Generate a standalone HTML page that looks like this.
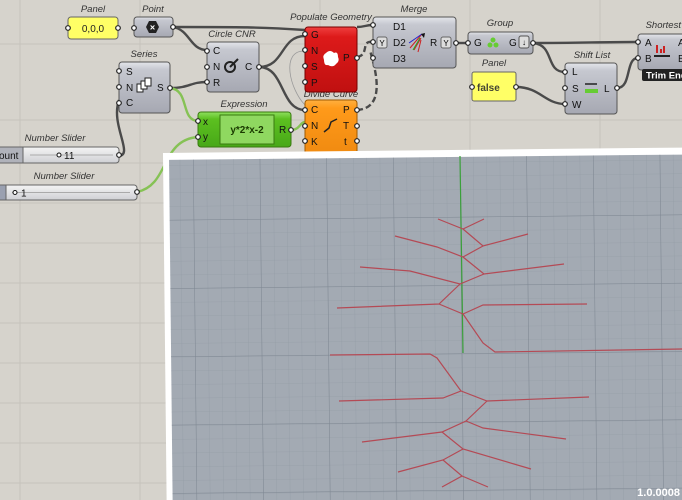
<!DOCTYPE html>
<html><head><meta charset="utf-8"><style>
html,body{margin:0;padding:0;width:682px;height:500px;overflow:hidden;background:#d6d3cc;}
svg{display:block}
text{font-family:"Liberation Sans",sans-serif;}
.lbl{font-size:9.5px;font-style:italic;fill:#333;text-anchor:middle}
.p{font-size:10px;fill:#111}
.comp{fill:url(#gg);stroke:#555;stroke-width:1}
.port{fill:#fff;stroke:#222;stroke-width:1.2}
.w{fill:none;stroke:#4a4a4a;stroke-width:2.4}
.wi{fill:none;stroke:#9a9a9a;stroke-width:0.8}
.g{fill:none;stroke:#86c255;stroke-width:2.4}
</style></head><body>
<svg width="682" height="500" viewBox="0 0 682 500" xmlns="http://www.w3.org/2000/svg">
<defs>
<linearGradient id="gg" x1="0" y1="0" x2="0" y2="1"><stop offset="0" stop-color="#e4e5ea"/><stop offset="0.15" stop-color="#c6c8d0"/><stop offset="1" stop-color="#a6a8b2"/></linearGradient>
<linearGradient id="rg" x1="0" y1="0" x2="0" y2="1"><stop offset="0" stop-color="#f04040"/><stop offset="0.15" stop-color="#dd1a1a"/><stop offset="1" stop-color="#c01010"/></linearGradient>
<linearGradient id="og" x1="0" y1="0" x2="0" y2="1"><stop offset="0" stop-color="#ffb040"/><stop offset="0.15" stop-color="#ff9a1a"/><stop offset="1" stop-color="#f08a10"/></linearGradient>
<linearGradient id="egg" x1="0" y1="0" x2="0" y2="1"><stop offset="0" stop-color="#8fe060"/><stop offset="0.2" stop-color="#5cc020"/><stop offset="1" stop-color="#48a818"/></linearGradient>
<linearGradient id="sg" x1="0" y1="0" x2="0" y2="1"><stop offset="0" stop-color="#f4f4f4"/><stop offset="1" stop-color="#cfd0d4"/></linearGradient>
<pattern id="minor" width="13.33" height="13.7" patternUnits="userSpaceOnUse" x="193" y="220"><path d="M0 0V14M0 0H14" stroke="#8f98a2" stroke-width="0.6" fill="none"/></pattern>
<pattern id="major" width="66.67" height="68.3" patternUnits="userSpaceOnUse" x="193" y="220"><path d="M0 0V70M0 0H70" stroke="#7e8792" stroke-width="1" fill="none"/></pattern>
</defs>
<g stroke="#c6c3bc" stroke-width="1">
<path d="M0 44H682M0 120H682M0 163H682M0 203H682M0 243H682M0 283H682M0 323H682M0 363H682M0 403H682M0 443H682M0 483H682"/>
<path d="M20 0V500M140 0V500M320 0V160M470 0V160M600 0V160"/>
</g>

<path class="w" d="M173 27 C240 27 260 27 305 30"/>
<path class="w" d="M173 27 C190 30 190 50 207 50"/>
<path class="w" d="M170 88 C190 88 190 82 207 82"/>
<path class="w" d="M118 156 C135 156 110 125 119 100"/>
<path class="w" d="M259 67 C285 67 280 36 305 36"/>
<path class="w" d="M259 67 C285 67 280 110 305 110"/>
<path class="g" d="M170 88 C190 90 180 120 198 121"/>
<path class="g" d="M137 192 C170 185 160 140 198 137"/>
<path class="g" d="M291 130 C300 130 300 122 305 122"/>
<path class="wi" d="M305 51 C280 50 290 90 305 105" stroke="#8c8" stroke-width="1.5"/>
<path class="w" stroke-dasharray="6 3" d="M357 57 C370 55 360 40 373 42 M357 110 C390 108 372 60 370 50"/>
<path class="w" d="M357 27 C365 27 365 25 373 25"/>
<path class="w" d="M456 43 C462 43 462 43 468 43"/>
<path class="w" d="M533 43 C580 43 600 42 638 42"/>
<path class="w" d="M533 43 C555 45 545 72 565 72"/>
<path class="w" d="M516 87 C540 87 545 104 565 104"/>
<path class="w" d="M617 88 C632 88 625 58 638 58"/>

<text class="lbl" x="93" y="12">Panel</text>
<rect x="68" y="17" width="50" height="22" rx="3" fill="#ffff66" stroke="#666"/>
<text x="93" y="32" font-family="Liberation Mono" font-size="10" text-anchor="middle" fill="#222">0,0,0</text>
<circle class="port" cx="68" cy="28" r="2.3"/><circle class="port" cx="118" cy="28" r="2.3"/>
<text class="lbl" x="153" y="12">Point</text>
<rect class="comp" x="134" y="17" width="39" height="20" rx="3"/>
<polygon points="146,27 149,21 156,21 159,27 156,33 149,33" fill="#222"/>
<text x="152.5" y="30.5" font-size="9" font-weight="bold" fill="#fff" text-anchor="middle">×</text>
<circle class="port" cx="134" cy="28" r="2.3"/><circle class="port" cx="173" cy="27" r="2.3"/>
<text class="lbl" x="232" y="37">Circle CNR</text>
<rect class="comp" x="207" y="42" width="52" height="50" rx="3"/>
<text class="p" x="213" y="54">C</text><text class="p" x="213" y="70">N</text><text class="p" x="213" y="86">R</text><text class="p" x="245" y="70">C</text>
<circle cx="230" cy="67" r="5" fill="none" stroke="#222" stroke-width="2"/><path d="M230 67 L238 59" stroke="#222" stroke-width="2"/>
<circle class="port" cx="207" cy="51" r="2.3"/><circle class="port" cx="207" cy="67" r="2.3"/><circle class="port" cx="207" cy="82" r="2.3"/><circle class="port" cx="259" cy="67" r="2.3"/>
<text class="lbl" x="144" y="57">Series</text>
<rect class="comp" x="119" y="62" width="51" height="51" rx="3"/>
<text class="p" x="126" y="75">S</text><text class="p" x="126" y="91">N</text><text class="p" x="126" y="106">C</text><text class="p" x="157" y="91">S</text>
<rect x="137" y="84" width="6" height="8" fill="#fff" stroke="#222"/><rect x="141" y="81" width="6" height="8" fill="#fff" stroke="#222"/><rect x="145" y="78" width="6" height="8" fill="#fff" stroke="#222"/>
<circle class="port" cx="119" cy="71" r="2.3"/><circle class="port" cx="119" cy="87" r="2.3"/><circle class="port" cx="119" cy="103" r="2.3"/><circle class="port" cx="170" cy="88" r="2.3"/>
<text class="lbl" x="244" y="107">Expression</text>
<rect x="198" y="112" width="93" height="35" rx="3" fill="url(#egg)" stroke="#3a7a10"/>
<rect x="220" y="115" width="54" height="29" fill="#8fd860" stroke="#3a7a10"/>
<text x="247" y="133" font-family="Liberation Mono" font-size="10" font-weight="bold" text-anchor="middle" fill="#1a3a00">y*2*x-2</text>
<text class="p" x="203" y="125">x</text><text class="p" x="203" y="140">y</text><text class="p" x="279" y="133">R</text>
<circle class="port" cx="198" cy="121" r="2.3"/><circle class="port" cx="198" cy="137" r="2.3"/><circle class="port" cx="291" cy="130" r="2.3"/>
<text class="lbl" x="55" y="141">Number Slider</text>
<rect x="0" y="147" width="119" height="16" rx="3" fill="url(#sg)" stroke="#666"/>
<rect x="-2" y="147" width="25" height="16" fill="#b0b2ba" stroke="#666"/>
<text x="-1" y="159" font-size="10" fill="#111">ount</text>
<path d="M30 155H113" stroke="#aaa"/>
<circle cx="59" cy="155" r="2" fill="#fff" stroke="#111"/>
<text x="64" y="159" font-size="10" fill="#111">11</text>
<circle class="port" cx="119" cy="155" r="2.3"/>
<text class="lbl" x="64" y="179">Number Slider</text>
<rect x="0" y="185" width="137" height="15" rx="3" fill="url(#sg)" stroke="#666"/>
<rect x="-2" y="185" width="8" height="15" fill="#9aa0b0" stroke="#666"/>
<path d="M12 192.5H130" stroke="#aaa"/>
<circle cx="15" cy="192.5" r="2" fill="#fff" stroke="#111"/>
<text x="21" y="196.5" font-size="10" fill="#111">1</text>
<circle class="port" cx="137" cy="192" r="2.3"/>
<text class="lbl" x="331" y="97" fill="#444">Divide Curve</text>
<text class="lbl" x="331" y="20" fill="#5a1010">Populate Geometry</text>
<rect x="305" y="27" width="52" height="65" rx="3" fill="url(#rg)" stroke="#700"/>
<text class="p" x="311" y="38">G</text><text class="p" x="311" y="54">N</text><text class="p" x="311" y="70">S</text><text class="p" x="311" y="86">P</text><text class="p" x="343" y="61">P</text>
<path d="M326 53 q4 -4 8 0 q4 -2 4 4 q2 4 -2 7 q-3 4 -8 1 q-4 1 -4 -5 q-2 -5 2 -7z" fill="#fff"/>
<circle class="port" cx="305" cy="34" r="2.3"/><circle class="port" cx="305" cy="50" r="2.3"/><circle class="port" cx="305" cy="66" r="2.3"/><circle class="port" cx="305" cy="82" r="2.3"/><circle class="port" cx="357" cy="58" r="2.3"/>
<rect x="305" y="100" width="52" height="55" rx="3" fill="url(#og)" stroke="#a05a00"/>
<text class="p" x="311" y="113">C</text><text class="p" x="311" y="129">N</text><text class="p" x="311" y="145">K</text>
<text class="p" x="343" y="113">P</text><text class="p" x="343" y="129">T</text><text class="p" x="344" y="145">t</text>
<path d="M324 132 L329 128 L331 122 L337 119" fill="none" stroke="#222" stroke-width="1.5"/>
<circle class="port" cx="305" cy="110" r="2.3"/><circle class="port" cx="305" cy="126" r="2.3"/><circle class="port" cx="305" cy="141" r="2.3"/><circle class="port" cx="357" cy="110" r="2.3"/><circle class="port" cx="357" cy="126" r="2.3"/><circle class="port" cx="357" cy="141" r="2.3"/>
<text class="lbl" x="414" y="12">Merge</text>
<rect class="comp" x="373" y="17" width="83" height="51" rx="3"/>
<text class="p" x="393" y="30">D1</text><text class="p" x="393" y="46">D2</text><text class="p" x="393" y="62">D3</text><text class="p" x="430" y="46">R</text>
<rect x="377" y="37" width="10" height="11" rx="2" fill="#ddd" stroke="#666"/><rect x="441" y="37" width="10" height="11" rx="2" fill="#ddd" stroke="#666"/>
<text x="382" y="46" font-size="8" text-anchor="middle">Y</text><text x="446" y="46" font-size="8" text-anchor="middle">Y</text>
<path d="M410 48 L422 34 M414 50 L421 38 M418 52 L421 40" stroke="#c22" stroke-width="1"/><path d="M409 43 L422 34" stroke="#22c"/><path d="M413 50 L420 38" stroke="#2a2"/><path d="M421 34 L425 33 L424 38z" fill="#111"/>
<circle class="port" cx="373" cy="25" r="2.3"/><circle class="port" cx="373" cy="42" r="2.3"/><circle class="port" cx="373" cy="58" r="2.3"/><circle class="port" cx="456" cy="43" r="2.3"/>
<text class="lbl" x="500" y="26">Group</text>
<rect class="comp" x="468" y="32" width="65" height="22" rx="3"/>
<text class="p" x="474" y="46">G</text><text class="p" x="509" y="46">G</text>
<circle cx="493" cy="40" r="2.5" fill="#6c3"/><circle cx="490" cy="45" r="2.5" fill="#6c3"/><circle cx="496" cy="45" r="2.5" fill="#6c3"/>
<rect x="519" y="36" width="10" height="12" rx="2" fill="#ddd" stroke="#555"/><text x="524" y="45" font-size="8" text-anchor="middle">↓</text>
<circle class="port" cx="468" cy="43" r="2.3"/><circle class="port" cx="533" cy="43" r="2.3"/>
<text class="lbl" x="494" y="66">Panel</text>
<rect x="472" y="72" width="44" height="29" rx="2" fill="#ffff66" stroke="#666"/>
<text x="477" y="91" font-family="Liberation Mono" font-size="10" font-weight="bold" fill="#443">false</text>
<circle class="port" cx="472" cy="87" r="2.3"/><circle class="port" cx="516" cy="87" r="2.3"/>
<text class="lbl" x="592" y="58">Shift List</text>
<rect class="comp" x="565" y="63" width="52" height="51" rx="3"/>
<text class="p" x="572" y="75">L</text><text class="p" x="572" y="92">S</text><text class="p" x="572" y="108">W</text><text class="p" x="604" y="92">L</text>
<path d="M585 84 H597" stroke="#222" stroke-width="1.5"/><rect x="585" y="89" width="13" height="4" fill="#6c3"/>
<circle class="port" cx="565" cy="72" r="2.3"/><circle class="port" cx="565" cy="88" r="2.3"/><circle class="port" cx="565" cy="104" r="2.3"/><circle class="port" cx="617" cy="88" r="2.3"/>
<text class="lbl" x="672" y="28">Shortest List</text>
<rect class="comp" x="638" y="34" width="50" height="36" rx="3"/>
<text class="p" x="645" y="46">A</text><text class="p" x="645" y="62">B</text><text class="p" x="678" y="46">A</text><text class="p" x="678" y="62">B</text>
<path d="M657 53V45M661 53V49M664 53V46" stroke="#c22" stroke-width="2"/><path d="M654 56H670" stroke="#222" stroke-width="2"/>
<rect x="642" y="69" width="45" height="12" rx="2" fill="#222"/>
<text x="646" y="78.5" font-size="9.5" font-weight="bold" fill="#fff">Trim End</text>
<circle class="port" cx="638" cy="42" r="2.3"/><circle class="port" cx="638" cy="58" r="2.3"/>

<g transform="rotate(-0.6 163 155)">
<rect x="163" y="153" width="540" height="360" fill="#ffffff"/>
<rect x="169" y="160" width="530" height="350" fill="#a3aab3"/>
<rect x="169" y="160" width="530" height="350" fill="url(#minor)"/>
<rect x="169" y="160" width="530" height="350" fill="url(#major)"/>
</g>
<path d="M460 156 L463 353" stroke="#3aa03a" stroke-width="1.2"/>
<g fill="none" stroke="#b44a55" stroke-width="1.2">
<path d="M438 219 L463 229 L484 219"/>
<path d="M463 229 L483 246 L528 234"/>
<path d="M395 236 L437 247 L463 257 L483 246"/>
<path d="M463 257 L484 274 L564 264"/>
<path d="M360 267 L410 271 L460 284 L484 274"/>
<path d="M460 284 L439 304 L337 308"/>
<path d="M439 304 L463 314 L483 305 L587 304"/>
<path d="M463 314 L483 343 L495 352 L682 349"/>
<path d="M330 355 L430 354 L437 358 L461 391"/>
<path d="M339 401 L443 398 L461 391 L487 401 L589 397"/>
<path d="M487 401 L466 421 L442 432 L362 442"/>
<path d="M466 421 L483 428 L566 439"/>
<path d="M442 432 L463 449 L531 469"/>
<path d="M463 449 L443 460 L398 472"/>
<path d="M443 460 L462 476 L442 487"/>
<path d="M462 476 L488 487"/>
</g>
<text x="680" y="496" font-size="11" font-weight="bold" fill="#fff" text-anchor="end">1.0.0008</text>
</svg>
</body></html>
